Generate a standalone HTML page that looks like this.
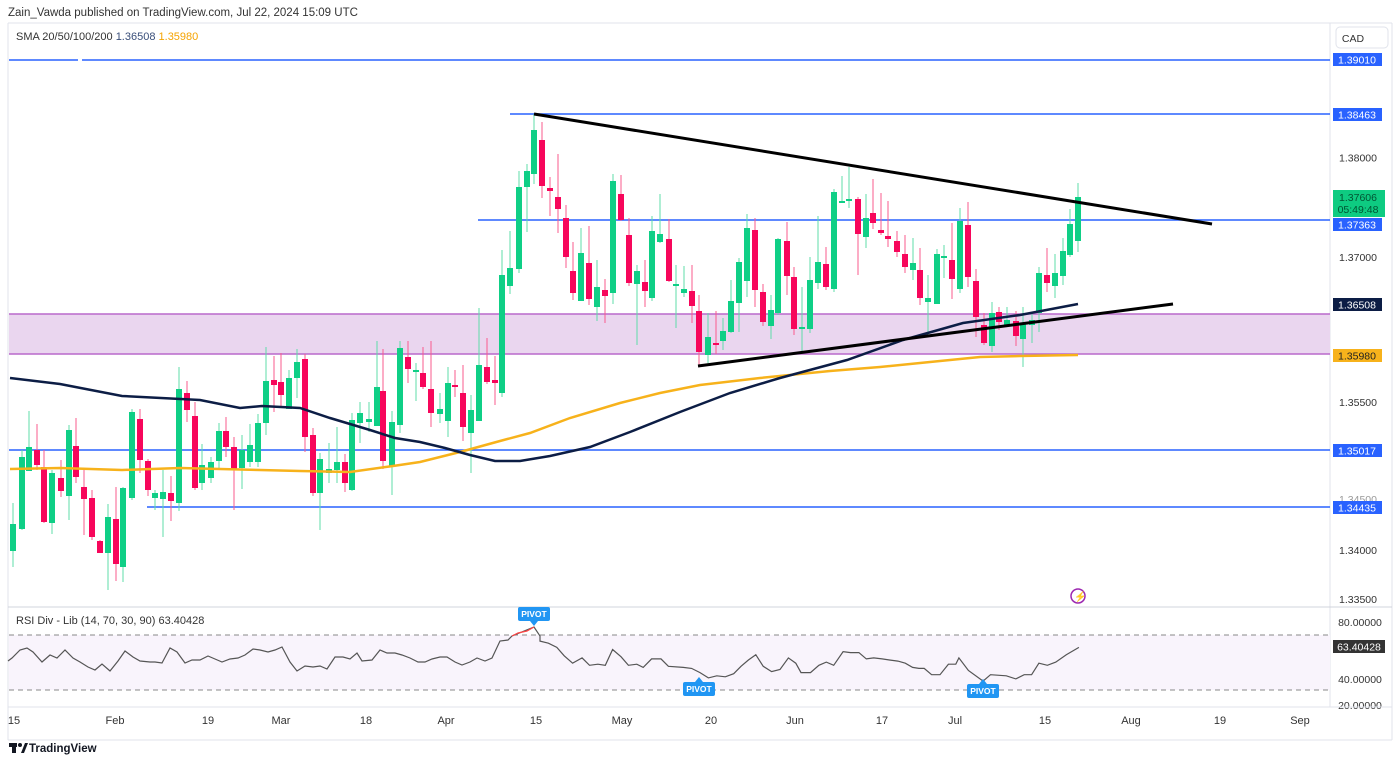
<!DOCTYPE html>
<html><head><meta charset="utf-8"><style>
html,body{margin:0;padding:0;background:#fff;}
body{width:1400px;height:763px;overflow:hidden;font-family:"Liberation Sans",sans-serif;}
svg text{font-family:"Liberation Sans",sans-serif;}
</style></head><body>
<svg id="s" width="1400" height="763" xmlns="http://www.w3.org/2000/svg">
<rect width="1400" height="763" fill="#fff"/>
<text x="8" y="16" font-size="11.5" fill="#333">Zain_Vawda published on TradingView.com, Jul 22, 2024 15:09 UTC</text>
<line x1="8" y1="23" x2="1392" y2="23" stroke="#e0e3eb"/>
<line x1="8" y1="23" x2="8" y2="740" stroke="#e0e3eb"/>
<line x1="1392" y1="23" x2="1392" y2="740" stroke="#e0e3eb"/>
<line x1="1330" y1="23" x2="1330" y2="707" stroke="#e0e3eb"/>
<text x="16" y="40" font-size="11" fill="#333">SMA 20/50/100/200 <tspan fill="#3a4f7a">1.36508</tspan> <tspan fill="#f5a300">1.35980</tspan></text>
<rect x="9" y="314" width="1321" height="40" fill="#ead6ef"/>
<line x1="9" y1="314" x2="1330" y2="314" stroke="#b968cc" stroke-width="1.5"/>
<line x1="9" y1="354" x2="1330" y2="354" stroke="#b968cc" stroke-width="1.5"/>
<g stroke="#2962ff" stroke-width="1.6">
<line x1="9" y1="60" x2="78" y2="60"/><line x1="82" y1="60" x2="1330" y2="60"/>
<line x1="510" y1="114" x2="1330" y2="114"/>
<line x1="478" y1="220" x2="1330" y2="220"/>
<line x1="9" y1="450" x2="1330" y2="450"/>
<line x1="147" y1="507" x2="1330" y2="507"/>
</g>
<g id="cd"></g>
<polyline id="ma200" fill="none" stroke="#f7b21b" stroke-width="2.5"/>
<polyline id="ma100" fill="none" stroke="#0c1d45" stroke-width="2.5"/>
<line x1="534" y1="114" x2="1212" y2="224" stroke="#000" stroke-width="3"/>
<line x1="698" y1="366" x2="1173" y2="304" stroke="#000" stroke-width="3"/>
<circle cx="1078" cy="596" r="7" fill="none" stroke="#9c27b0" stroke-width="1.5"/>
<text x="1074" y="600" font-size="10" fill="#e91e63">⚡</text>
<line x1="8" y1="607" x2="1392" y2="607" stroke="#d1d4dc"/>
<rect x="9" y="635" width="1321" height="55" fill="#f9f4fc"/>
<line x1="9" y1="635" x2="1330" y2="635" stroke="#888" stroke-dasharray="5,4"/>
<line x1="9" y1="690" x2="1330" y2="690" stroke="#888" stroke-dasharray="5,4"/>
<text x="16" y="624" font-size="11" fill="#333">RSI Div - Lib (14, 70, 30, 90)  63.40428</text>
<polyline id="rsi" fill="none" stroke="#555" stroke-width="1.2"/>
<polyline points="512,636 518,633 527,631 534,627" fill="none" stroke="#f44" stroke-width="1.2"/>
<g font-size="8.5" font-weight="bold" fill="#fff" text-anchor="middle">
<rect x="518" y="607" width="32" height="14" rx="2" fill="#2196f3"/><polygon points="530,621 538,621 534,626" fill="#2196f3"/><text x="534" y="617">PIVOT</text>
<rect x="683" y="682" width="32" height="14" rx="2" fill="#2196f3"/><polygon points="695,682 703,682 699,677" fill="#2196f3"/><text x="699" y="692">PIVOT</text>
<rect x="967" y="684" width="32" height="14" rx="2" fill="#2196f3"/><polygon points="979,684 987,684 983,679" fill="#2196f3"/><text x="983" y="694">PIVOT</text>
</g>
<g font-size="10.5" fill="#333" text-anchor="middle">
<rect x="1336" y="27" width="52" height="21" rx="4" fill="#fff" stroke="#e0e3eb"/><text x="1353" y="42">CAD</text>
<rect x="1333" y="53" width="49" height="13" fill="#2962ff"/><text x="1357" y="63.5" fill="#fff">1.39010</text>
<rect x="1333" y="108" width="49" height="13" fill="#2962ff"/><text x="1357" y="118.5" fill="#fff">1.38463</text>
<text x="1358" y="161.5">1.38000</text>
<rect x="1333" y="190" width="52" height="27" fill="#0ecb81"/><text x="1358" y="201" fill="#053">1.37606</text><text x="1358" y="213" fill="#053">05:49:48</text>
<rect x="1333" y="218" width="49" height="13" fill="#2962ff"/><text x="1357" y="228.5" fill="#fff">1.37363</text>
<text x="1358" y="261">1.37000</text>
<rect x="1333" y="298" width="49" height="13" fill="#0c1d45"/><text x="1357" y="308.5" fill="#fff">1.36508</text>
<rect x="1333" y="349" width="49" height="13" fill="#f7b21b"/><text x="1357" y="359.5" fill="#222">1.35980</text>
<text x="1358" y="406">1.35500</text>
<rect x="1333" y="444" width="49" height="13" fill="#2962ff"/><text x="1357" y="454.5" fill="#fff">1.35017</text>
<text x="1358" y="503" fill="#999">1.34500</text>
<rect x="1333" y="501" width="49" height="13" fill="#2962ff"/><text x="1357" y="511.5" fill="#fff">1.34435</text>
<text x="1358" y="554">1.34000</text>
<text x="1358" y="603">1.33500</text>
<text x="1360" y="626">80.00000</text>
<rect x="1333" y="640" width="52" height="13" fill="#333"/><text x="1359" y="650.5" fill="#fff">63.40428</text>
<text x="1360" y="683">40.00000</text>
<text x="1360" y="709">20.00000</text>
</g>
<line x1="8" y1="707" x2="1392" y2="707" stroke="#e0e3eb"/>
<g font-size="11" fill="#333" text-anchor="middle">
<text x="14" y="724">15</text><text x="115" y="724">Feb</text><text x="208" y="724">19</text><text x="281" y="724">Mar</text><text x="366" y="724">18</text><text x="446" y="724">Apr</text><text x="536" y="724">15</text><text x="622" y="724">May</text><text x="711" y="724">20</text><text x="795" y="724">Jun</text><text x="882" y="724">17</text><text x="955" y="724">Jul</text><text x="1045" y="724">15</text><text x="1131" y="724">Aug</text><text x="1220" y="724">19</text><text x="1300" y="724">Sep</text>
</g>
<line x1="8" y1="740" x2="1392" y2="740" stroke="#e0e3eb"/>
<g fill="#131722"><rect x="9" y="743" width="8" height="4"/><rect x="12" y="743" width="4" height="10"/><circle cx="20" cy="745" r="2"/><polygon points="21,753 25,743 28,743 24,753"/></g>
<text x="29" y="752" font-size="11.5" font-weight="bold" fill="#131722">TradingView</text>
</svg>
<script>
var C=[[13,524,551,503,567,1],[22,457,529,450,530,1],[29,447,471,411,471,1],[37,450,465,424,470,0],[44,467,522,450,523,0],[52,473,523,470,534,1],[61,478,491,460,497,0],[69,430,496,425,520,1],[76,446,477,418,483,0],[84,487,499,468,535,0],[92,498,537,490,540,0],[100,541,553,540,553,0],[108,517,553,504,590,1],[116,519,564,487,581,0],[123,488,567,487,582,1],[132,412,498,409,500,1],[140,419,460,409,473,0],[148,461,490,459,496,0],[155,493,498,490,510,1],[163,492,499,470,537,1],[171,493,501,476,521,0],[179,389,503,367,511,1],[187,393,410,381,422,0],[195,416,488,402,490,0],[202,465,483,444,490,1],[211,462,478,457,483,1],[219,431,461,423,470,1],[226,431,447,417,457,0],[234,447,469,437,510,0],[242,450,468,435,489,1],[250,445,462,424,467,1],[258,423,462,414,467,1],[266,381,423,347,435,1],
[274,380,385,356,412,0],[281,382,395,353,407,0],[289,378,409,370,409,1],[297,362,378,349,398,1],[305,359,437,354,452,0],[313,435,493,428,496,0],[320,459,493,453,530,1],[329,469,473,443,483,1],[337,462,470,427,483,1],[345,462,483,454,492,0],[352,420,490,413,491,1],[360,413,423,402,443,1],[369,419,422,402,432,1],[377,387,426,341,426,1],[383,391,461,349,469,0],[392,422,467,411,495,1],[400,348,425,341,433,1],[408,357,369,341,383,0],[416,370,372,363,401,1],[423,373,387,347,389,0],[431,389,413,341,427,0],[440,409,414,393,423,1],[448,383,421,367,437,1],[455,385,387,370,397,0],[463,393,427,365,441,0],[471,410,433,395,473,1],[479,365,421,308,421,1],[487,367,382,338,384,0],[495,380,383,356,405,0],[502,275,393,250,397,1],
[510,268,286,231,294,1],[519,187,269,171,273,1],[527,171,187,164,232,1],[534,130,174,114,184,1],[542,140,186,122,198,0],[550,188,191,177,216,0],[558,197,209,154,233,0],[566,218,257,205,268,0],[573,271,293,242,300,0],[581,253,301,228,301,1],[589,263,299,226,305,0],[597,287,307,260,321,1],[605,290,296,279,323,0],[613,181,293,174,304,1],[621,194,220,175,221,0],[629,235,283,218,286,0],[637,271,284,265,345,1],[645,282,291,260,307,0],[652,231,298,216,301,1],[660,234,242,194,243,1],[669,239,281,219,282,0],[676,284,285,265,328,1],[684,289,293,266,297,1],[692,291,306,265,323,0],[699,311,352,295,365,0],[708,337,355,313,363,1],[716,343,344,311,354,0],[723,331,341,318,350,1],[731,301,332,280,333,1],[739,262,303,258,332,1],[747,228,281,214,297,1],[755,230,290,218,307,0],[763,292,322,284,326,0],[771,310,326,295,339,1],
[778,239,313,238,315,1],[787,241,276,222,295,0],[794,277,329,267,335,0],[802,327,329,287,351,1],[810,280,329,257,333,1],[818,262,283,216,289,1],[826,264,287,247,290,0],[834,192,289,189,292,1],[842,201,203,176,203,1],[849,199,200,167,208,1],[858,199,234,197,275,0],[866,218,237,194,248,1],[873,213,223,179,229,0],[881,230,233,193,235,0],[888,236,239,201,247,0],[897,241,252,231,257,0],[905,254,267,235,273,0],[913,263,270,238,280,1],[920,270,298,248,305,0],[928,298,302,275,335,1],[937,254,304,249,304,1],[944,256,257,245,278,1],[952,260,279,223,299,0],[960,221,289,208,293,1],[968,225,277,202,287,0],[976,281,317,269,337,0],[984,325,343,313,345,0],[992,313,346,302,352,1],[999,312,322,307,330,0],[1007,320,325,307,327,1],[1016,321,336,311,346,0],[1023,323,339,307,367,1],[1032,320,325,313,343,1],[1039,273,313,267,332,1],[1047,275,283,248,292,0],[1055,273,286,254,298,1],[1063,251,276,238,285,1],[1070,224,255,209,257,1],[1078,197,241,183,252,1]];
var h='';C.forEach(function(c){var g=c[5],col=g?'#0fcf86':'#f7065b',wc=g?'#5fdca8':'#fa5b8c';h+='<line x1="'+c[0]+'" y1="'+c[3]+'" x2="'+c[0]+'" y2="'+c[4]+'" stroke="'+wc+'" stroke-width="1"/>';var t=c[1],b=c[2];if(b-t<2)b=t+2;h+='<rect x="'+(c[0]-3)+'" y="'+t+'" width="6" height="'+(b-t)+'" fill="'+col+'"/>';});
document.getElementById('cd').innerHTML=h;
document.getElementById('ma100').setAttribute('points','10,378 60,384 122,396 200,400 240,408 262,406 300,408 330,418 370,430 395,438 420,442 445,448 470,455 495,461 520,461 550,456 590,447 630,432 680,412 730,393 780,378 847,360 903,340 963,323 1020,315 1078,304');
document.getElementById('ma200').setAttribute('points','10,469 60,468 122,470 180,468 260,470 300,471 350,472 393,466 420,462 460,452 500,441 530,433 570,418 620,403 660,393 700,385 760,378 830,371 880,367 930,362 980,357 1020,356 1078,355');
var r1=[[8,661],[12,658],[20,650],[27,648],[33,652],[42,662],[50,655],[57,658],[65,650],[73,658],[80,662],[88,667],[95,670],[102,664],[110,671],[118,661],[125,651],[133,657],[140,661],[150,662],[155,662],[162,663],[170,648],[177,652],[185,663],[192,660],[200,660],[208,656],[215,659],[222,662],[230,659],[238,658],[245,655],[253,649],[260,650],[268,652],[275,650],[282,647],[290,662],[297,671],[305,666],[313,667],[320,666],[327,669],[335,657],[343,657],[350,659],[357,653],[362,661],[372,660],[380,650],[387,653],[395,653],[402,655],[410,658],[418,662],[425,662],[432,659],[440,657],[447,657],[455,662],[462,665],[470,662],[477,658],[485,661],[492,658],[500,641],[508,640],[512,636]];
var r2=[[540,639],[548,641],[556,645],[563,653],[571,660],[580,655],[587,662],[595,661],[602,662],[609,647],[617,654],[624,662],[632,661],[638,664],[646,656],[655,656],[662,663],[676,664],[684,665],[692,669],[700,674],[708,672],[716,673],[724,670],[731,663],[738,657],[745,652],[752,663],[760,668],[768,666],[776,655],[783,660],[788,669],[797,669],[805,662],[812,659],[819,662],[828,649],[835,650],[843,650],[850,656],[857,655],[865,656],[872,657],[880,658],[887,660],[894,664],[900,665],[905,665],[912,671],[920,671],[928,661],[935,661],[938,655],[947,667],[961,677],[968,671],[983,672],[992,675],[1000,671],[1007,671],[1014,660],[1022,662],[1030,659],[1040,652],[1052,645]];
var p=[];r1.forEach(function(a){p.push(a[0]+','+a[1]);});
p.push('534,627');p.push('540,636');
r2.forEach(function(a){p.push((540+(a[0]-540)*1.0526).toFixed(1)+','+(600+(a[1]-600)*1.0526).toFixed(1));});
document.getElementById('rsi').setAttribute('points',p.join(' '));
</script>
</body></html>
